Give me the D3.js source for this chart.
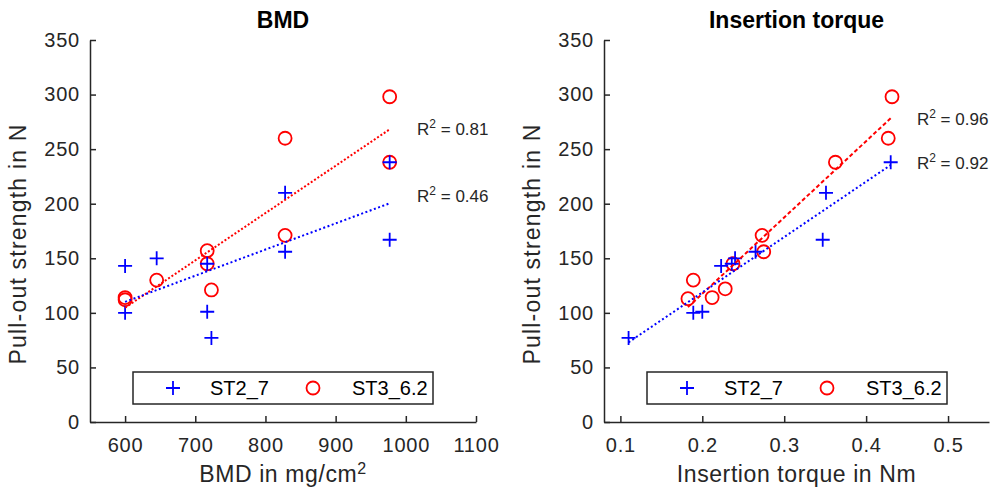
<!DOCTYPE html>
<html>
<head>
<meta charset="utf-8">
<script src="https://cdn.jsdelivr.net/npm/d3@7"></script>
<style>
  body { margin: 0; background: #fff; }
  svg { font-family: "Liberation Sans", Arial, Helvetica, sans-serif; }
</style>
</head>
<body>
<svg id="chart" width="992" height="493"></svg>
<script>
// values
var bmd_st2 = [600, 600, 645, 717, 717, 723, 828, 828, 977, 977];
var pull_bmd_st2 = [143, 100, 150, 145, 101, 77, 156, 210, 167, 238];
var bmd_st3 = [600, 600, 645, 717, 717, 723, 828, 828, 977, 977];
var pull_bmd_st3 = [112, 114, 130, 157, 145, 121, 171, 260, 298, 238];

var torque_st2 = [0.110, 0.189, 0.200, 0.223, 0.240, 0.236, 0.265, 0.347, 0.351, 0.430];
var pull_torque_st2 = [77, 100, 101, 143, 150, 145, 156, 167, 210, 238];
var torque_st3 = [0.1825, 0.189, 0.212, 0.228, 0.2375, 0.273, 0.275, 0.3625, 0.427, 0.4316];
var pull_torque_st3 = [113, 130, 114, 122, 145, 171, 156, 238, 260, 298];

var seriesNames = ["ST2_7", "ST3_6.2"];
var r2_bmd = ["0.81", "0.46"];      // red, blue
var r2_torque = ["0.96", "0.92"];
// where the R² notes sit, in data units (x, y of baseline)
var r2_pos_bmd = [[1016, 263], [1016, 202]];
var r2_pos_torque = [[0.462, 272], [0.462, 232]];

var yTicks = [0, 50, 100, 150, 200, 250, 300, 350];
var bmdTicks = [600, 700, 800, 900, 1000, 1100];
var torqueTicks = [0.1, 0.2, 0.3, 0.4, 0.5];

var axisCol = "#262626";
var blue = "#0000ff", red = "#ff0000";

var svg = d3.select("#chart");

function fit(xs, ys) { // least squares line
    var mx = d3.mean(xs), my = d3.mean(ys);
    var sxy = d3.sum(xs, function(x, i) {return (x - mx) * (ys[i] - my);});
    var sxx = d3.sum(xs, function(x) {return (x - mx) * (x - mx);});
    var b = sxy / sxx;
    return function(x) {return my + b * (x - mx);};
}

function panel(opt) {
    var x = d3.scaleLinear().domain(opt.xdom).range(opt.xr);
    var y = d3.scaleLinear().domain([0, 350]).range([422, 40]);
    var g = svg.append("g");

    // axes, ticks pointing inwards
    var xa = g.append("g")
    .attr("transform", "translate(0,422)")
    .call(d3.axisBottom(x).tickValues(opt.xticks).tickSizeInner(-6).tickSizeOuter(0).tickPadding(16)
        .tickFormat(opt.fmt));
    var ya = g.append("g")
    .attr("transform", "translate(" + opt.xr[0] + ",0)")
    .call(d3.axisLeft(y).tickValues(yTicks).tickSizeInner(-6).tickSizeOuter(0).tickPadding(10));
    [xa, ya].forEach(function(a) {
        a.select(".domain").attr("stroke", axisCol).attr("stroke-width", 1.5);
        a.selectAll(".tick line").attr("stroke", axisCol).attr("stroke-width", 1.5);
        a.selectAll(".tick text").attr("fill", axisCol).attr("font-size", 20)
        .attr("letter-spacing", 0.8);
    });

    var cx = (opt.xr[0] + opt.xr[1]) / 2;
    g.append("text") // title
    .attr("x", cx).attr("y", 28)
    .attr("text-anchor", "middle")
    .attr("font-size", 23).attr("font-weight", "bold")
    .text(opt.title);

    var xl = g.append("text")
    .attr("x", cx).attr("y", 482)
    .attr("text-anchor", "middle")
    .attr("font-size", 23).attr("fill", axisCol).attr("letter-spacing", 0.6)
    .text(opt.xlabel);
    if (opt.xsup) {
        xl.append("tspan").attr("baseline-shift", "super").attr("font-size", 16).text(opt.xsup);
    }

    g.append("text")
    .attr("transform", "translate(" + (opt.xr[0] - 64) + ",244) rotate(-90)")
    .attr("text-anchor", "middle")
    .attr("font-size", 23).attr("fill", axisCol).attr("letter-spacing", 1.2)
    .text("Pull-out strength in N");

    // markers
    g.selectAll("circle.st3")
    .data(opt.x3)
    .enter()
    .append("circle")
    .attr("class", "st3")
    .attr("cx", function(d) {return x(d);})
    .attr("cy", function(d, i) {return y(opt.y3[i]);})
    .attr("r", 6.5)
    .attr("fill", "none").attr("stroke", red).attr("stroke-width", 1.8);

    g.selectAll("path.st2")
    .data(opt.x2)
    .enter()
    .append("path")
    .attr("class", "st2")
    .attr("transform", function(d, i) {return "translate(" + x(d) + "," + y(opt.y2[i]) + ")";})
    .attr("d", "M-7,0H7M0,-7V7")
    .attr("stroke", blue).attr("stroke-width", 1.8);

    // fitted lines
    var f3 = fit(opt.x3, opt.y3), f2 = fit(opt.x2, opt.y2);
    var e3 = d3.extent(opt.x3), e2 = d3.extent(opt.x2);
    g.append("line")
    .attr("x1", x(e3[0])).attr("y1", y(f3(e3[0])))
    .attr("x2", x(e3[1])).attr("y2", y(f3(e3[1])))
    .attr("stroke", red).attr("stroke-width", 2).attr("stroke-dasharray", opt.redDash);
    g.append("line")
    .attr("x1", x(e2[0])).attr("y1", y(f2(e2[0])))
    .attr("x2", x(e2[1])).attr("y2", y(f2(e2[1])))
    .attr("stroke", blue).attr("stroke-width", 2).attr("stroke-dasharray", "2,2.5");

    // R² notes
    opt.r2.forEach(function(v, i) {
        var t = g.append("text")
        .attr("x", x(opt.r2pos[i][0])).attr("y", y(opt.r2pos[i][1]))
        .attr("font-size", 17).attr("fill", axisCol)
        .text("R");
        t.append("tspan").attr("baseline-shift", "super").attr("font-size", 12).text("2");
        t.append("tspan").text(" = " + v);
    });

    // legend
    var lx = opt.xr[0] + 43;
    var lg = g.append("g").attr("transform", "translate(" + lx + ",372)");
    lg.append("rect")
    .attr("width", 300).attr("height", 32)
    .attr("fill", "#fff").attr("stroke", axisCol).attr("stroke-width", 1.5);
    lg.append("path")
    .attr("transform", "translate(40,16)")
    .attr("d", "M-7,0H7M0,-7V7")
    .attr("stroke", blue).attr("stroke-width", 1.8);
    lg.append("circle")
    .attr("cx", 180).attr("cy", 16).attr("r", 6.5)
    .attr("fill", "none").attr("stroke", red).attr("stroke-width", 1.8);
    lg.selectAll("text.leg")
    .data(seriesNames)
    .enter()
    .append("text")
    .attr("class", "leg")
    .attr("x", function(d, i) {return i ? 219 : 77;})
    .attr("y", 23)
    .attr("font-size", 20)
    .text(function(d) {return d;});
}

panel({
    title: "BMD", xlabel: "BMD in mg/cm", xsup: "2",
    xdom: [550, 1100], xr: [90, 476], xticks: bmdTicks, fmt: d3.format("d"),
    x2: bmd_st2, y2: pull_bmd_st2, x3: bmd_st3, y3: pull_bmd_st3,
    r2: r2_bmd, r2pos: r2_pos_bmd, redDash: "2,2"
});

panel({
    title: "Insertion torque", xlabel: "Insertion torque in Nm",
    xdom: [0.08, 0.55], xr: [604, 989], xticks: torqueTicks, fmt: d3.format(".1f"),
    x2: torque_st2, y2: pull_torque_st2, x3: torque_st3, y3: pull_torque_st3,
    r2: r2_torque, r2pos: r2_pos_torque, redDash: "4,2.5"
});
</script>
</body>
</html>
